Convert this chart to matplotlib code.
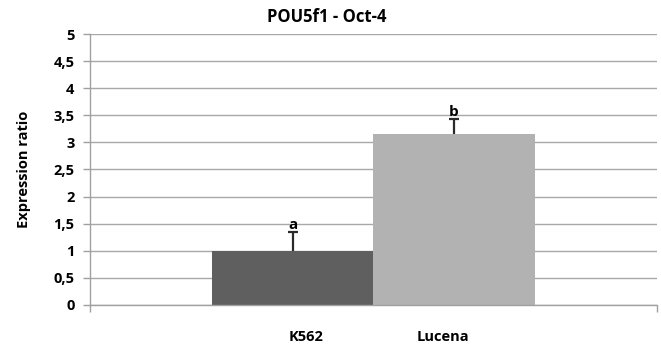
import matplotlib
matplotlib.use("Agg")
import matplotlib.pyplot as plt

# data
groups = ["K562", "Lucena"]
ratio = [1.0, 3.15]
err_up = [0.34, 0.29]
letters = ["a", "b"]
bar_colors = ["#5f5f5f", "#b2b2b2"]
yticks = [0, 0.5, 1, 1.5, 2, 2.5, 3, 3.5, 4, 4.5, 5]
ytick_labels = ["0", "0,5", "1", "1,5", "2", "2,5", "3", "3,5", "4", "4,5", "5"]

plt.rcParams["font.family"] = ["Open Sans", "DejaVu Sans"]
plt.rcParams["font.weight"] = "bold"

fig = plt.figure(figsize=(6.61, 3.48), dpi=100)
ax = fig.add_axes([0.136, 0.124, 0.858, 0.778])

pos = list(range(len(groups)))
ax.bar(pos, ratio, width=1.0, color=bar_colors, zorder=2)
# upper-only error bars
tops = [v + e for v, e in zip(ratio, err_up)]
ax.vlines(pos, ratio, tops, color="#2a2a2a", linewidth=1.6, zorder=3)
ax.hlines(tops, [p - 0.03 for p in pos], [p + 0.03 for p in pos],
          color="#2a2a2a", linewidth=1.6, zorder=3)
for x, t, lt in zip(pos, tops, letters):
    ax.annotate(lt, (x, t), xytext=(0, 0), textcoords="offset points",
                ha="center", va="bottom", fontsize=11, fontweight="bold")

ax.set_xlim(-1.26, 2.26)
ax.set_ylim(0, 5)
ax.set_yticks(yticks)
ax.set_yticklabels(ytick_labels, fontsize=10.5, fontweight="bold")
ax.yaxis.grid(True, color="#a8a8a8", linewidth=1.0, zorder=0)
ax.set_axisbelow(True)

ax.set_xticks([-1.26, 2.26])
ax.set_xticklabels([])
ax.tick_params(axis="x", length=5, color="#a0a0a0", width=1.0)
ax.tick_params(axis="y", length=5, color="#a0a0a0", width=1.0, pad=6)
for x, g in zip([0.08, 0.93], groups):
    ax.text(x, -0.6, g, ha="center", va="center", fontsize=10.5,
            fontweight="bold")

for s in ["top", "right"]:
    ax.spines[s].set_visible(False)
for s in ["left", "bottom"]:
    ax.spines[s].set_color("#a0a0a0")
    ax.spines[s].set_linewidth(1.0)

ax.set_ylabel("Expression ratio", fontsize=10.5, fontweight="bold")
ax.yaxis.set_label_coords(-0.104, 0.5)
fig.text(0.495, 0.95, "POU5f1 - Oct-4", ha="center", va="center",
         fontsize=12, fontweight="bold")

fig.savefig("out.png", dpi=100)
plt.close(fig)
